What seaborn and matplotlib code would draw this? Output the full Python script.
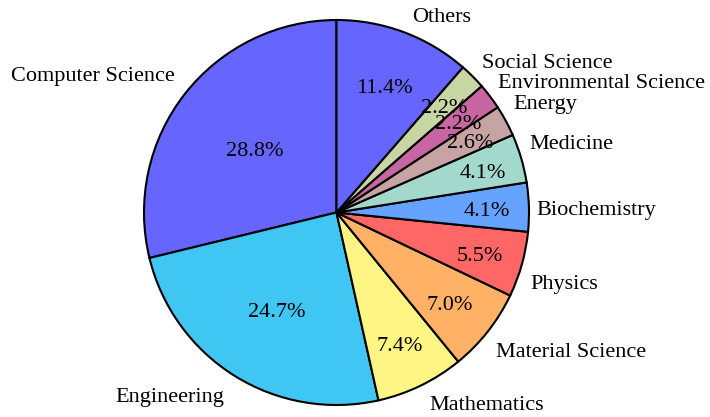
import matplotlib
matplotlib.use("Agg")
import numpy as np
import matplotlib.pyplot as plt
import seaborn as sns

# Share of publications by field (%)
fields = ["Computer Science", "Engineering", "Mathematics", "Material Science",
          "Physics", "Biochemistry", "Medicine", "Energy",
          "Environmental Science", "Social Science", "Others"]
shares = [28.8, 24.7, 7.4, 7.0, 5.5, 4.1, 4.1, 2.6, 2.2, 2.2, 11.4]
colors = ["#6666FF", "#40C6F2", "#FFF585", "#FFB266", "#FF6666", "#66A3FF",
          "#A3D9CC", "#C7A3A3", "#C766A3", "#C7D6A3", "#6666FF"]

# styling: distance of the % text from the centre, and small label nudges (px)
pct_dist = [0.54, 0.587, 0.753, 0.75, 0.774, 0.78, 0.79, 0.79, 0.79, 0.793, 0.706]
label_nudge = [(5, -5), (0, 5), (0, 3), (-7, 9), (-10, 15), (-12, 4),
               (-10, -8), (-9, -7), (-7, -1), (-4, 1), (1, 3)]

sns.set_theme(style="white")
plt.rcParams["font.family"] = ["Liberation Serif", "DejaVu Serif"]

fig = plt.figure(figsize=(7.1, 4.17), dpi=100)
ax = fig.add_axes([0, 0, 1, 1])

wedges, texts, autotexts = ax.pie(
    shares, labels=fields, colors=colors, autopct="%1.1f%%",
    startangle=90, counterclock=True, labeldistance=1.1,
    wedgeprops={"edgecolor": "black", "linewidth": 1.5},
    textprops={"fontsize": 16, "color": "black"})

# place the pie: radius ~192.5 px, centre at (336.5, 212.5) from top-left
R = 192.5
cx, cy = 336.5, 417.0 - 212.5
ax.set_xlim(-cx / R, (710 - cx) / R)
ax.set_ylim(-cy / R, (417 - cy) / R)
ax.set_aspect("auto")
ax.axis("off")

for w, at, d in zip(wedges, autotexts, pct_dist):
    mid = np.deg2rad((w.theta1 + w.theta2) / 2)
    at.set_position((d * np.cos(mid), d * np.sin(mid) - 0.019))

for t, (nx, ny) in zip(texts, label_nudge):
    x, y = t.get_position()
    t.set_position((x + nx / R, y - ny / R))

fig.savefig("out.png", dpi=100)
